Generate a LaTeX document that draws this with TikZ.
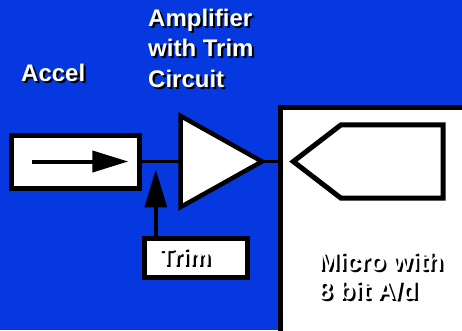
\documentclass[tikz,border=0pt]{standalone}
\usepackage{fontspec}
\setmainfont{Liberation Sans}
\usetikzlibrary{arrows.meta}
\definecolor{slideblue}{HTML}{0638DF}
\newcommand{\shadowed}[1]{\makebox[0pt][l]{\raisebox{-2.2pt}{\hspace{2.2pt}\textcolor{black}{#1}}}#1}
\tikzset{
  >={Triangle[length=36pt,width=21pt]},
  blockbox/.style={draw=black, fill=white, line width=5pt, inner sep=0pt},
  labeltext/.style={
    text=white,
    font=\fontsize{24}{30.5}\selectfont\bfseries,
    align=left,
    inner sep=0pt,
    anchor=base west,
  },
  wire/.style={line width=3pt},
  sigarrow/.style={->, line width=4pt},
}

\begin{document}
\begin{tikzpicture}[x=1pt, y=-1pt, line join=miter]
  \useasboundingbox (0,0) rectangle (462,330);
  \clip (0,0) rectangle (462,330);
  \fill[slideblue] (0,0) rectangle (462,330);

  % sensor block
  \node[blockbox, minimum width=127.7pt, minimum height=53pt] (accel) at (75.35,161.5) {};
  \draw[sigarrow] ([xshift=23.3pt]accel.west) -- ([xshift=-13.4pt]accel.east);

  % amplifier
  \coordinate (amp-in) at (180.7,161.5);
  \coordinate (amp-out) at (262,161.5);
  \draw[wire] (accel.east) -- (amp-in);
  \draw[line width=4.5pt, fill=white] (180.7,116) -- (amp-out) -- (180.7,207) -- cycle;

  % micro with converter
  \node[blockbox, anchor=north west, minimum width=200pt, minimum height=240pt] (micro) at (278.3,105) {};
  \draw[wire] (amp-out) -- (amp-out -| micro.west);
  \draw[line width=5pt] (293.3,161.5) -- (341,124.8) -- (443.2,124.8)
    -- (443.2,198.2) -- (341,198.2) -- cycle;

  % trim input
  \node[blockbox, minimum width=103pt, minimum height=39pt, text width=73pt,
        inner xsep=15pt, align=left, text=white,
        font=\fontsize{24}{30.5}\selectfont\bfseries] (trim) at (196,258) {\raisebox{2.5pt}{\shadowed{Trim}}};
  \coordinate (trim-join) at (155.8,161.5);
  \draw[sigarrow, >={Triangle[length=38pt,width=21.7pt]}, shorten >=7.8pt]
    (trim.north -| trim-join) -- (trim-join);

  % labels (anchored at the last line)
  \node[labeltext] (accel-label) at (21,81.5) {\shadowed{Accel}};
  \node[labeltext] (amp-label) at (148,87) {\shadowed{Amplifier}\\\shadowed{with Trim}\\\shadowed{Circuit}};
  \node[labeltext, font=\fontsize{25.2}{29.5}\selectfont\bfseries] (micro-label) at (318,299.5)
    {\shadowed{Micro with}\\\shadowed{8 bit A/d}};
\end{tikzpicture}
\end{document}
